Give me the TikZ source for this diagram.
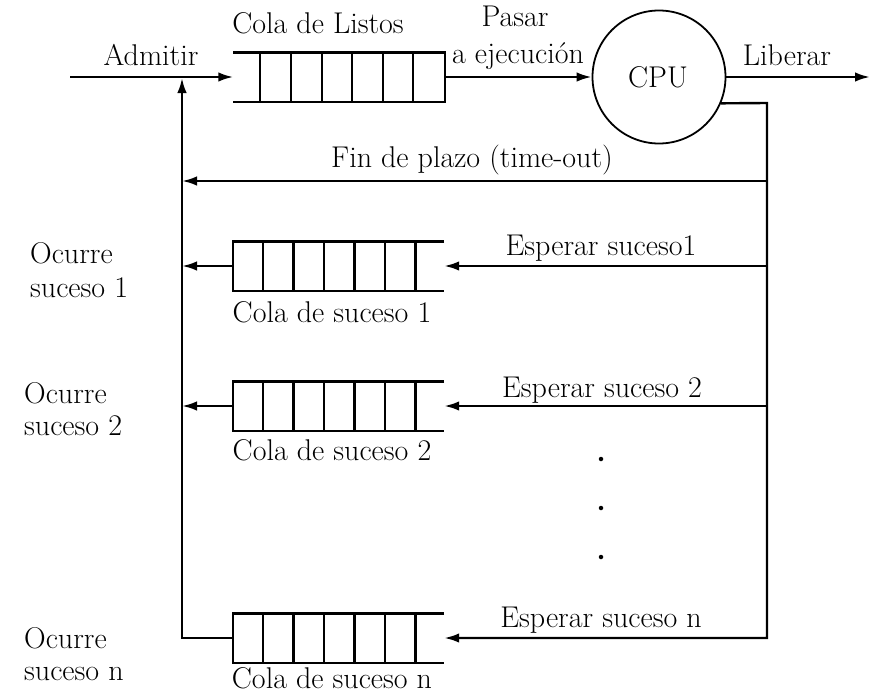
\documentclass[tikz,border=0pt]{standalone}
\usetikzlibrary{arrows.meta,calc}
\begin{document}
\begin{tikzpicture}[x=1pt,y=-1pt,
  line join=miter,
  wire/.style={line width=2.4pt},
  arr/.style={wire,-{Latex[length=15pt,width=9.5pt]}},
  qbox/.style={rectangle,draw=none,minimum width=211pt,minimum height=49pt,inner sep=0pt},
  cpunode/.style={circle,draw,line width=1.8pt,minimum size=133pt,inner sep=0pt},
  lbl/.style={inner sep=0pt,font=\fontsize{30}{36}\selectfont},
  dotmark/.style={circle,fill,inner sep=0pt,minimum size=4.5pt}
]
\useasboundingbox (0,0) rectangle (876,696);

% ---- ready queue (open on the left, closed on the right)
\node[qbox] (rq) at (339,77) {};
\draw[wire] (rq.north west) -- (rq.north east) -- (rq.south east) -- (rq.south west);
\foreach \xx in {260,291,322,352,383,413}
  \draw[wire] (\xx,0 |- rq.north) -- (\xx,0 |- rq.south);

% ---- event queues (closed on the left, open on the right)
\node[qbox] (eq1) at (338.5,266) {};
\node[qbox] (eq2) at (338.5,406) {};
\node[qbox] (eqn) at (338.5,638) {};
\foreach \q in {eq1,eq2,eqn}{
  \draw[wire] (\q.north east) -- (\q.north west) -- (\q.south west) -- (\q.south east);
  \foreach \xx in {263,293.5,324,354.5,385,415.5}
    \draw[wire] (\xx,0 |- \q.north) -- (\xx,0 |- \q.south);
}

% ---- processor
\node[cpunode] (cpu) at (659,77) {};
\node[lbl,anchor=base] (cputxt) at (658,87) {CPU};

% ---- bus coordinates
\coordinate (in)    at (70,77);
\coordinate (out)   at (870,77);
\coordinate (rtop)  at (767,103);
\coordinate (lbus)  at (182,638);
\coordinate (ltop)  at (182,78);
\coordinate (tor)   at (767,181);
\coordinate (tol)   at (182,181);

% ---- connectors
\draw[arr] (in) -- (rq.west);
\draw[arr] (rq.east) -- (cpu.west);
\draw[arr] (cpu.east) -- (out);
\draw[arr] (cpu.-23) -- (rtop) |- (eqn.east);
\draw[arr] (tor) -- (tol);
\draw[arr] (rtop |- eq1.east) -- (eq1.east);
\draw[arr] (rtop |- eq2.east) -- (eq2.east);
\draw[arr] (eqn.west) -| (ltop);
\draw[arr] (eq1.west) -- (eq1.west -| lbus);
\draw[arr] (eq2.west) -- (eq2.west -| lbus);

% ---- ellipsis between queue 2 and queue n
\node[dotmark] (d1) at (601,459) {};
\node[dotmark] (d2) at (601,508) {};
\node[dotmark] (d3) at (601,557) {};

% ---- labels
\node[lbl,anchor=base] (tlistos) at (318,34) {Cola de Listos};
\node[lbl,anchor=base] (tadm)    at (151,65) {Admitir};
\node[lbl,anchor=base] (tpas1)   at (515,27) {Pasar};
\node[lbl,anchor=base] (tpas2)   at (518,63) {a ejecución};
\node[lbl,anchor=base] (tlib)    at (787,65) {Liberar};
\node[lbl,anchor=base] (tfin)    at (472,167) {Fin de plazo (time-out)};

\node[lbl,anchor=base] (tesp1) at (601,255) {Esperar suceso1};
\node[lbl,anchor=base] (tesp2) at (602,397) {Esperar suceso 2};
\node[lbl,anchor=base] (tespn) at (601,627) {Esperar suceso n};

\node[lbl,anchor=base] (tcol1) at (332,322) {Cola de suceso 1};
\node[lbl,anchor=base] (tcol2) at (332,460) {Cola de suceso 2};
\node[lbl,anchor=base] (tcoln) at (332,688) {Cola de suceso n};

\node[lbl,anchor=base west] (oc1a) at (30,263) {Ocurre};
\node[lbl,anchor=base west] (oc1b) at (30,297) {suceso 1};
\node[lbl,anchor=base west] (oc2a) at (24,403) {Ocurre};
\node[lbl,anchor=base west] (oc2b) at (24,435) {suceso 2};
\node[lbl,anchor=base west] (ocna) at (24,648) {Ocurre};
\node[lbl,anchor=base west] (ocnb) at (24,680) {suceso n};
\end{tikzpicture}
\end{document}
